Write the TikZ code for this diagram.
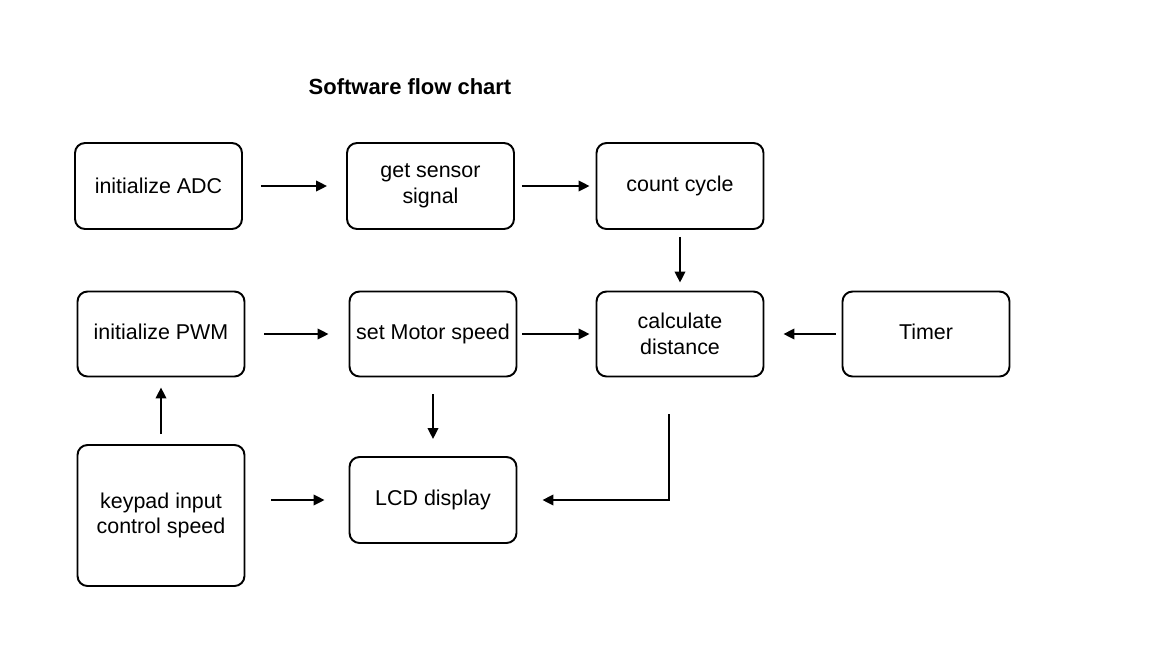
\documentclass[tikz,border=0pt]{standalone}
\usepackage{fontspec}
\setmainfont{Liberation Sans}
\usetikzlibrary{arrows.meta}
\begin{document}
\begin{tikzpicture}[x=0.02cm,y=-0.02cm,
  box/.style={draw, line width=1.1pt, rounded corners=0.2cm, minimum width=3.34cm, minimum height=1.72cm, align=center, inner sep=1pt, font=\fontsize{12.2}{14.5}\selectfont},
  arr/.style={line width=1.15pt, -{Triangle[length=0.22cm,width=0.21cm]}}]
\useasboundingbox (0,0) rectangle (1162,646);
\node[font=\bfseries\fontsize{12.5}{15}\selectfont] (title) at (410,87) {Software flow chart};
\node[box] (adc) at (158.5,186) {initialize ADC};
\node[box] (sensor) at (430.5,186) {get sensor\\signal};
\node[box] (count) at (680,186) {count cycle\strut};
\node[box, minimum height=1.7cm] (pwm) at (161,334) {initialize PWM\strut};
\node[box, minimum height=1.7cm] (motor) at (433,334) {set Motor speed\strut};
\node[box, minimum height=1.7cm] (calc) at (680,334) {calculate\\distance};
\node[box, minimum height=1.7cm] (timer) at (926,334) {Timer\strut};
\node[box, minimum height=2.82cm] (keypad) at (161,515.5) {keypad input\\control speed};
\node[box] (lcd) at (433,500) {LCD display\strut};
\coordinate (bend) at (669,500);
\draw[arr, shorten <=0.36cm, shorten >=0.38cm] (adc) -- (sensor);
\draw[arr, shorten <=0.14cm, shorten >=0.12cm] (sensor) -- (count);
\draw[arr, shorten <=0.14cm, shorten >=0.16cm] (count) -- (calc);
\draw[arr, shorten <=0.38cm, shorten >=0.4cm] (pwm) -- (motor);
\draw[arr, shorten <=0.1cm, shorten >=0.12cm] (motor) -- (calc);
\draw[arr, shorten <=0.12cm, shorten >=0.38cm] (timer) -- (calc);
\draw[arr, shorten <=0.2cm, shorten >=0.2cm] (keypad) -- (pwm);
\draw[arr, shorten <=0.34cm, shorten >=0.34cm] (motor) -- (lcd);
\draw[arr, shorten <=0.52cm, shorten >=0.48cm] (keypad.east |- lcd) -- (lcd);
\draw[arr, shorten >=0.5cm] ([yshift=-0.74cm]calc.south -| bend) -- (bend) -- (lcd.east);
\end{tikzpicture}
\end{document}
